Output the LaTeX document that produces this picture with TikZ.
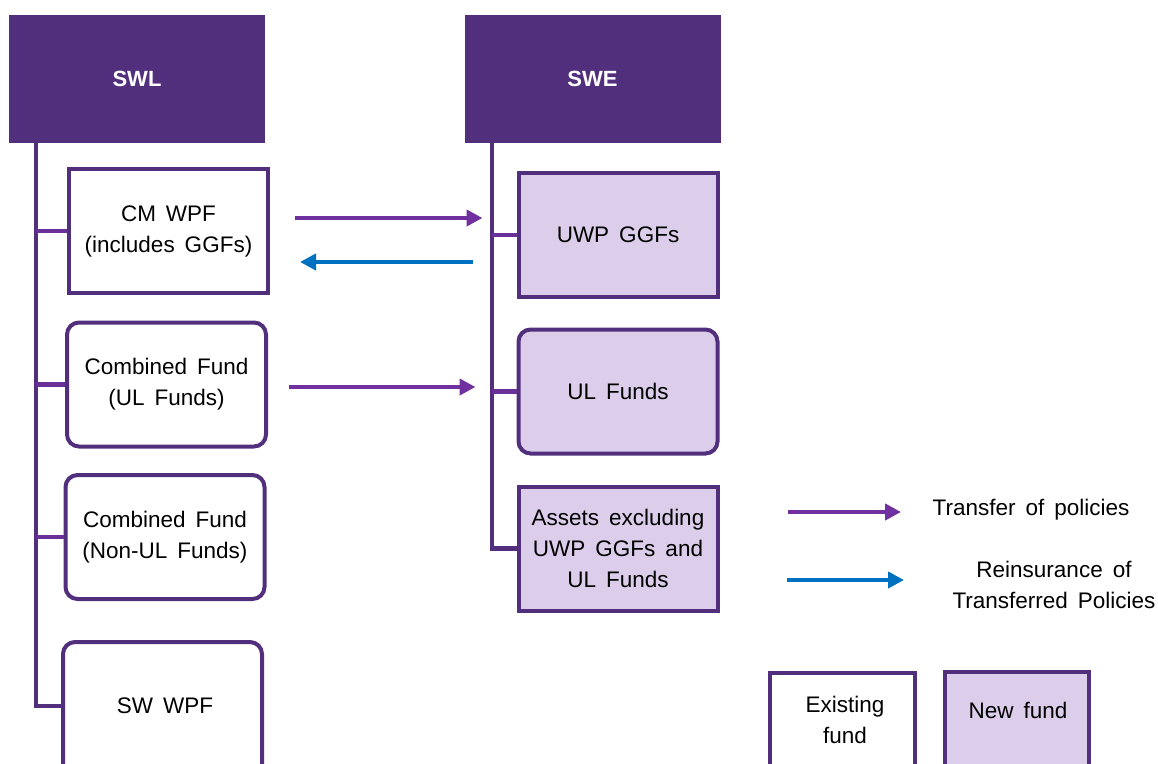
\documentclass[tikz,border=0pt]{standalone}
\usepackage{fontspec}
\setmainfont{Liberation Sans}[WordSpace=1.6]
\usetikzlibrary{arrows.meta}
\definecolor{dpurple}{HTML}{512F7D}
\definecolor{apurple}{HTML}{7030A0}
\definecolor{ablue}{HTML}{0070C0}
\definecolor{lfill}{HTML}{DCCDEB}
\tikzset{
  head/.style={fill=dpurple, draw=none, minimum width=256pt, minimum height=128pt, text=white, font=\fontsize{22}{26}\selectfont\bfseries},
  fund/.style={draw=dpurple, line width=4pt, minimum width=199pt, minimum height=124pt, align=center, font=\fontsize{22.5}{31}\selectfont, inner sep=2pt},
  oldfund/.style={fund, fill=white},
  newfund/.style={fund, fill=lfill},
  rnd/.style={rounded corners=12pt},
  trunk/.style={draw=dpurple, line width=4.5pt},
  branch/.style={draw=apurple!80!dpurple, line width=4.5pt},
  transfer/.style={draw=apurple, line width=4pt, -{Triangle[length=16pt,width=16pt]}},
  reins/.style={draw=ablue, line width=4pt, -{Triangle[length=16pt,width=16pt]}},
  lbl/.style={align=center, font=\fontsize{22.5}{31}\selectfont}
}
\begin{document}
\begin{tikzpicture}[x=1pt,y=-1pt]
\useasboundingbox (0,0) rectangle (1158,763);
\clip (0,0) rectangle (1158,763);
% headers
\node[head] (swl) at (137,79) {SWL};
\node[head] (swe) at (592.5,79) {SWE};
% trunks
\coordinate (lt) at (36,143);
\coordinate (rt) at (492,143);
% SWL funds
\node[oldfund] (cmwpf) at (168.5,231) {CM WPF\\(includes GGFs)};
\node[oldfund,rnd] (cful) at (166.5,384.5) {Combined Fund\\(UL Funds)};
\node[oldfund,rnd] (cfnul) at (165,537) {Combined Fund\\(Non-UL Funds)};
\node[oldfund,rnd, minimum height=146pt] (swwpf) at (162.5,715) {};
\node[lbl] (swwpft) at (165,706) {SW WPF};
% SWE funds
\node[newfund] (uwp) at (618,235) {UWP GGFs};
\node[newfund,rnd] (ulf) at (618,391.5) {UL Funds};
\node[newfund] (assets) at (618,548.5) {Assets excluding\\UWP GGFs and\\UL Funds};
% tree lines
\draw[trunk] (lt) |- (swwpf.west |- swwpft.west);
\draw[branch] (lt |- cmwpf.west) -- (cmwpf.west);
\draw[branch] (lt |- cful.west) -- (cful.west);
\draw[branch] (lt |- cfnul.west) -- (cfnul.west);
\draw[trunk] (rt) |- (assets.west);
\draw[branch] (rt |- uwp.west) -- (uwp.west);
\draw[branch] (rt |- ulf.west) -- (ulf.west);
% arrows
\draw[transfer, shorten <=25pt, shorten >=34pt] (cmwpf.east |- 0,218) -- (uwp.west |- 0,218);
\draw[reins, shorten <=44pt, shorten >=30pt] (uwp.west |- 0,262) -- (cmwpf.east |- 0,262);
\draw[transfer, shorten <=21pt, shorten >=41pt] (cful.east |- 0,387) -- (ulf.west |- 0,387);
% legend
\coordinate (l1a) at (788,512);
\coordinate (l1b) at (901,512);
\coordinate (l2a) at (787,580);
\coordinate (l2b) at (904,580);
\draw[transfer] (l1a) -- (l1b);
\draw[reins] (l2a) -- (l2b);
\node[lbl] (t1) at (1031,510) {Transfer of policies};
\node[lbl] (t2) at (1054,585) {Reinsurance of\\Transferred Policies};
\node[oldfund, minimum width=145pt, minimum height=110pt] (exist) at (842.5,728) {};
\node[lbl] (existt) at (845,720) {Existing\\fund};
\node[newfund, minimum width=144pt, minimum height=110pt] (newf) at (1017,727) {};
\node[lbl] (newft) at (1018,710) {New fund};
\end{tikzpicture}
\end{document}
